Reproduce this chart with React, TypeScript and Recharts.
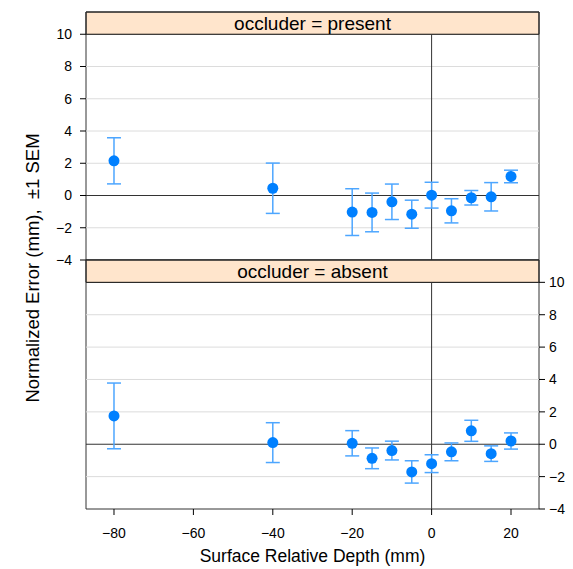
import React from 'react';
import { ScatterChart, Scatter, XAxis, YAxis, ErrorBar, ReferenceLine, ReferenceArea } from 'recharts';

// surface relative depth (mm)
const depths = [-80, -40, -20, -15, -10, -5, 0, 5, 10, 15, 20];

// occluder = present
const presentMean = [2.15, 0.45, -1.03, -1.05, -0.39, -1.16, 0.02, -0.95, -0.14, -0.08, 1.18];
const presentSem = [1.43, 1.56, 1.45, 1.2, 1.1, 0.87, 0.8, 0.75, 0.45, 0.88, 0.39];

// occluder = absent
const absentMean = [1.75, 0.1, 0.06, -0.87, -0.39, -1.71, -1.2, -0.47, 0.83, -0.58, 0.2];
const absentSem = [2.03, 1.23, 0.78, 0.64, 0.58, 0.69, 0.55, 0.55, 0.65, 0.48, 0.5];

const xTicks = [-80, -60, -40, -20, 0, 20];
const yTicks = [-4, -2, 0, 2, 4, 6, 8, 10];
const gridValues = [-2, 2, 4, 6, 8];

const X_DOMAIN: [number, number] = [-87.05, 27.05];
const Y_DOMAIN: [number, number] = [-4, 11.38];
const FONT = '"Liberation Sans", Arial, Helvetica, sans-serif';

const presentData = depths.map((d, i) => ({ depth: d, mean: presentMean[i], sem: presentSem[i] }));
const absentData = depths.map((d, i) => ({ depth: d, mean: absentMean[i], sem: absentSem[i] }));

const minus = (v: number) => String(v).replace('-', '\u2212');

const Dot = (props: any) => <circle cx={props.cx} cy={props.cy} r={5.5} fill="#0080ff" />;

const tickStyle = { fontSize: 14, fill: '#000', fontFamily: FONT };

interface PanelProps {
  data: { depth: number; mean: number; sem: number }[];
  label: string;
  top: boolean;
}

const Panel = ({ data, label, top }: PanelProps) => (
  <ScatterChart
    width={573}
    height={top ? 275 : 320}
    margin={top ? { top: 0, right: 0, bottom: 15, left: 0 } : { top: 11, right: 0, bottom: 30, left: 0 }}
  >
    {top ? (
      <XAxis
        type="number"
        dataKey="depth"
        orientation="top"
        domain={X_DOMAIN}
        ticks={xTicks}
        height={12}
        tick={false}
        tickSize={8}
        axisLine={false}
        tickLine={{ stroke: '#000' }}
        allowDataOverflow
      />
    ) : (
      <XAxis
        type="number"
        dataKey="depth"
        orientation="bottom"
        domain={X_DOMAIN}
        ticks={xTicks}
        height={30}
        tick={tickStyle}
        tickFormatter={minus}
        tickSize={6}
        tickMargin={13}
        axisLine={false}
        tickLine={{ stroke: '#000' }}
        allowDataOverflow
      />
    )}
    <YAxis
      yAxisId="l"
      type="number"
      dataKey="mean"
      orientation="left"
      domain={Y_DOMAIN}
      ticks={yTicks}
      width={86}
      tick={top ? tickStyle : false}
      tickFormatter={minus}
      tickSize={6}
      tickMargin={8}
      axisLine={false}
      tickLine={{ stroke: '#000' }}
      allowDataOverflow
    />
    <YAxis
      yAxisId="r"
      type="number"
      orientation="right"
      domain={Y_DOMAIN}
      ticks={yTicks}
      width={34}
      tick={top ? false : { ...tickStyle, textAnchor: 'start' }}
      tickFormatter={minus}
      tickSize={6}
      tickMargin={4}
      axisLine={false}
      tickLine={{ stroke: '#000' }}
      allowDataOverflow
    />
    {gridValues.map((v) => (
      <ReferenceLine key={v} yAxisId="l" y={v} stroke="#dcdcdc" strokeWidth={1} />
    ))}
    <ReferenceLine yAxisId="l" y={0} stroke="#333" strokeWidth={1} />
    <ReferenceLine
      yAxisId="l"
      segment={[{ x: 0, y: -4 }, { x: 0, y: 10 }]}
      stroke="#333"
      strokeWidth={1}
    />
    <ReferenceArea
      yAxisId="l"
      x1={X_DOMAIN[0]}
      x2={X_DOMAIN[1]}
      y1={10}
      y2={Y_DOMAIN[1]}
      fill="#ffe5cc"
      fillOpacity={1}
      stroke="#000"
      strokeWidth={1}
      label={{ value: label, position: 'center', fontSize: 19, fill: '#000', fontFamily: FONT }}
    />
    <ReferenceArea
      yAxisId="l"
      x1={X_DOMAIN[0]}
      x2={X_DOMAIN[1]}
      y1={Y_DOMAIN[0]}
      y2={Y_DOMAIN[1]}
      fill="none"
      stroke="#333"
      strokeWidth={1}
    />
    <Scatter yAxisId="l" data={data} dataKey="mean" shape={Dot} isAnimationActive={false}>
      <ErrorBar dataKey="sem" direction="y" width={7} stroke="#4da6ff" strokeWidth={1.5} />
    </Scatter>
  </ScatterChart>
);

export default function App() {
  return (
    <div style={{ position: 'absolute', left: 0, top: 0, width: 573, height: 569, fontFamily: FONT, background: '#fff' }}>
      <div style={{ position: 'absolute', left: 0, top: 0 }}>
        <Panel data={presentData} label="occluder = present" top />
      </div>
      <div style={{ position: 'absolute', left: 0, top: 249 }}>
        <Panel data={absentData} label="occluder = absent" top={false} />
      </div>
      <div
        style={{
          position: 'absolute',
          left: 86,
          width: 453,
          top: 545,
          textAlign: 'center',
          fontSize: 17.5,
          lineHeight: '22px',
          color: '#000',
        }}
      >
        Surface Relative Depth (mm)
      </div>
      <div
        style={{
          position: 'absolute',
          left: 33 - 170,
          top: 268 - 11,
          width: 340,
          textAlign: 'center',
          fontSize: 18.5,
          lineHeight: '22px',
          color: '#000',
          whiteSpace: 'pre',
          transform: 'rotate(-90deg)',
        }}
      >
        {'Normalized Error (mm),  \u00b11 SEM'}
      </div>
    </div>
  );
}
